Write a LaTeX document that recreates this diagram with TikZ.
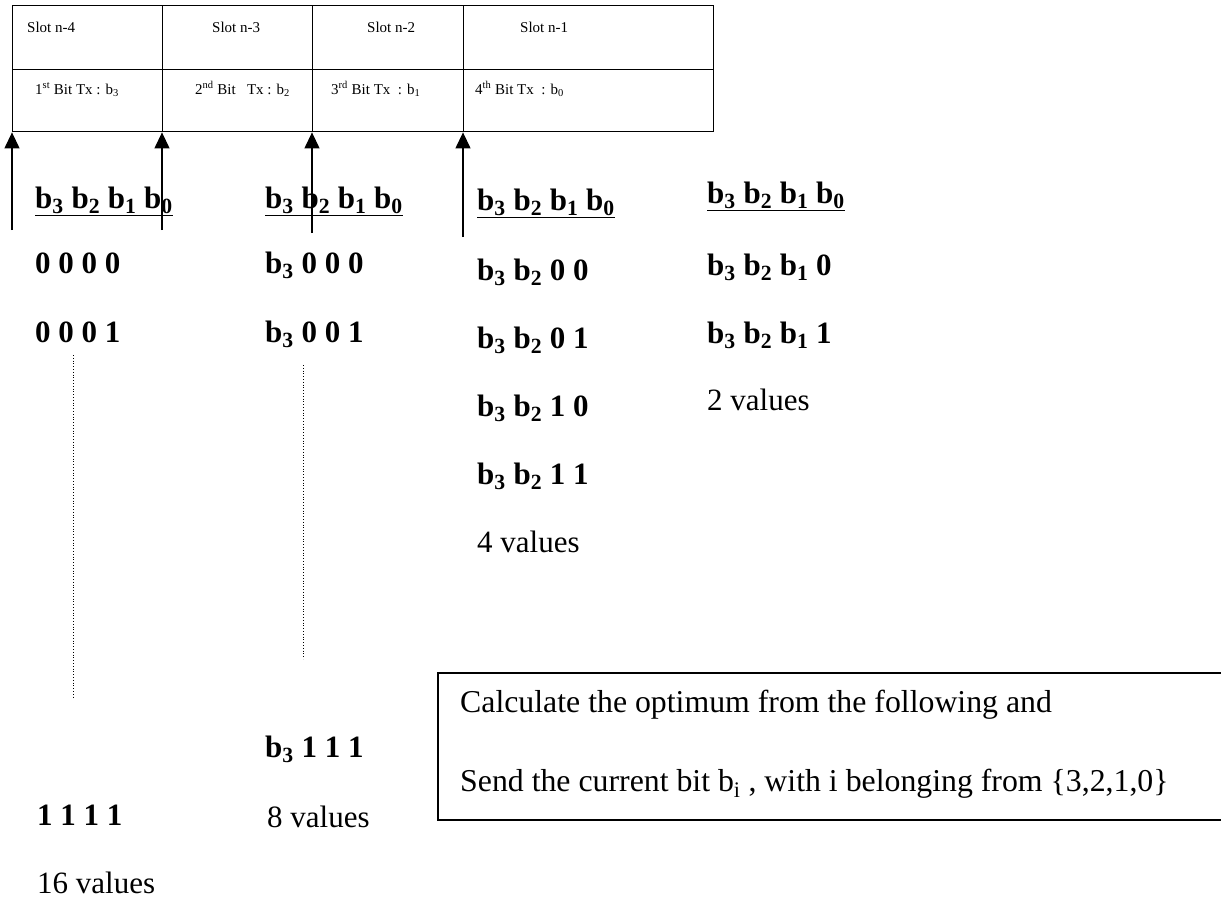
\documentclass[tikz,border=0pt]{standalone}
\usepackage{fontspec}
\setmainfont{Liberation Serif}
\usetikzlibrary{arrows.meta}
\newcommand\bsb[1]{b\textsubscript{#1}}
\begin{document}
\begin{tikzpicture}[x=1pt,y=-1pt,
  cell/.style={draw,line width=1.4pt,anchor=north west,inner sep=0pt},
  hdr/.style={anchor=base west,inner sep=0pt,font=\fontsize{15}{18}\selectfont},
  big/.style={anchor=base west,inner sep=0pt,font=\fontsize{31}{37}\selectfont},
  note/.style={anchor=base west,inner sep=0pt,font=\fontsize{31.8}{38}\selectfont},
  bigb/.style={anchor=base west,inner sep=0pt,font=\fontsize{31}{37}\selectfont\bfseries},
  tick/.style={line width=1.2pt,-{Triangle[width=15pt,length=16pt]}},
  gap/.style={dotted,line width=0.8pt}]
\clip (0,0) rectangle (1221,899);

% slot table
\node[cell,minimum width=150pt,minimum height=64pt] (s4) at (12,5) {};
\node[cell,minimum width=150pt,minimum height=64pt] (s3) at (162,5) {};
\node[cell,minimum width=151pt,minimum height=64pt] (s2) at (312,5) {};
\node[cell,minimum width=250pt,minimum height=64pt] (s1) at (463,5) {};
\node[cell,minimum width=150pt,minimum height=62pt] (t4) at (12,69) {};
\node[cell,minimum width=150pt,minimum height=62pt] (t3) at (162,69) {};
\node[cell,minimum width=151pt,minimum height=62pt] (t2) at (312,69) {};
\node[cell,minimum width=250pt,minimum height=62pt] (t1) at (463,69) {};

\node[hdr] (l4) at (27,33) {Slot n-4};
\node[hdr] (l3) at (212,33) {Slot n-3};
\node[hdr] (l2) at (367,33) {Slot n-2};
\node[hdr] (l1) at (520,33) {Slot n-1};
\node[hdr] (m4) at (35,94) {1\textsuperscript{st} Bit Tx : b\textsubscript{3}};
\node[hdr] (m3) at (195,94) {2\textsuperscript{nd} Bit \ \ Tx : b\textsubscript{2}};
\node[hdr] (m2) at (331,94) {3\textsuperscript{rd} Bit Tx \ : b\textsubscript{1}};
\node[hdr] (m1) at (475,94) {4\textsuperscript{th} Bit Tx \ : b\textsubscript{0}};

% time-instant arrows
\coordinate (a4) at (12,230);
\coordinate (a3) at (162,230);
\coordinate (a2) at (312,233);
\coordinate (a1) at (463,237);
\draw[tick] (a4) -- (t4.south west);
\draw[tick] (a3) -- (t3.south west);
\draw[tick] (a2) -- (t2.south west);
\draw[tick] (a1) -- (t1.south west);

% column headings
\node[bigb] (h4) at (35,208) {\underline{\bsb{3} \bsb{2} \bsb{1} \bsb{0}}};
\node[bigb] (h3) at (265,208) {\underline{\bsb{3} \bsb{2} \bsb{1} \bsb{0}}};
\node[bigb] (h2) at (477,210) {\underline{\bsb{3} \bsb{2} \bsb{1} \bsb{0}}};
\node[bigb] (h1) at (707,203) {\underline{\bsb{3} \bsb{2} \bsb{1} \bsb{0}}};

% first column: 16 values
\node[bigb] (c4a) at (35,273) {0 0 0 0};
\node[bigb] (c4b) at (35,342) {0 0 0 1};
\coordinate (d4t) at (73,355);
\coordinate (d4b) at (73,697);
\draw[gap] (d4t) -- (d4b);
\node[bigb] (c4z) at (37,825) {1 1 1 1};
\node[big] (n4) at (37,893) {16 values};

% second column: 8 values
\node[bigb] (c3a) at (265,273) {\bsb{3} 0 0 0};
\node[bigb] (c3b) at (265,342) {\bsb{3} 0 0 1};
\coordinate (d3t) at (303,365);
\coordinate (d3b) at (303,659);
\draw[gap] (d3t) -- (d3b);
\node[bigb] (c3z) at (265,757) {\bsb{3} 1 1 1};
\node[big] (n3) at (267,827) {8 values};

% third column: 4 values
\node[bigb] (c2a) at (477,280) {\bsb{3} \bsb{2} 0 0};
\node[bigb] (c2b) at (477,348) {\bsb{3} \bsb{2} 0 1};
\node[bigb] (c2c) at (477,416) {\bsb{3} \bsb{2} 1 0};
\node[bigb] (c2d) at (477,484) {\bsb{3} \bsb{2} 1 1};
\node[big] (n2) at (477,552) {4 values};

% fourth column: 2 values
\node[bigb] (c1a) at (707,275) {\bsb{3} \bsb{2} \bsb{1} 0};
\node[bigb] (c1b) at (707,343) {\bsb{3} \bsb{2} \bsb{1} 1};
\node[big] (n1) at (707,410) {2 values};

% decision box
\draw[line width=1.4pt] (1230,673) -- (438,673) -- (438,820) -- (1230,820);
\node[note] (q1) at (460,712) {Calculate the optimum from the following and};
\node[note] (q2) at (460,791) {Send the current bit b\textsubscript{i} , with i belonging from \{3,2,1,0\}};
\end{tikzpicture}
\end{document}
